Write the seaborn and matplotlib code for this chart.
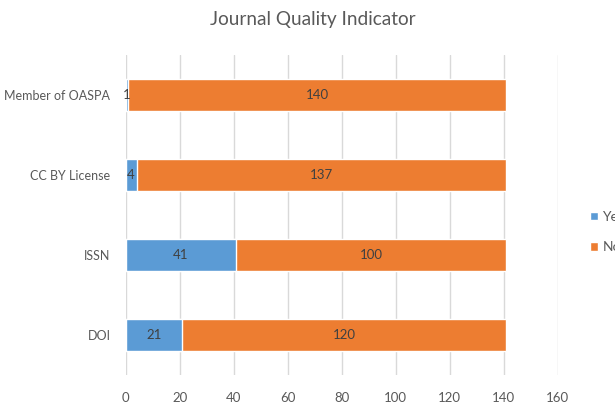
import numpy as np
import pandas as pd
import matplotlib.pyplot as plt
import seaborn as sns
from matplotlib.patches import Patch

# chart values
categories = ["Member of OASPA", "CC BY License", "ISSN", "DOI"]
yes_counts = [1, 4, 41, 21]
no_counts = [140, 137, 100, 120]
x_ticks = [0, 20, 40, 60, 80, 100, 120, 140, 160]

COLOR_YES = '#5B9BD5'
COLOR_NO = '#ED7D31'
TEXT_GRAY = '#595959'

sns.set_theme(style="white")
plt.rcParams['font.family'] = ['Lato', 'DejaVu Sans']

df = pd.DataFrame({"category": categories, "yes": yes_counts, "no": no_counts})
df["total"] = df["yes"] + df["no"]

fig = plt.figure(figsize=(6.15, 4.04), dpi=100)
ax = fig.add_axes([125.7 / 615, 1 - 375 / 404, (557.7 - 125.7) / 615, 320 / 404])

# stacked: full bar in orange, yes part drawn over it
sns.barplot(data=df, x="total", y="category", color=COLOR_NO, saturation=1, width=0.4, ax=ax, zorder=2)
sns.barplot(data=df, x="yes", y="category", color=COLOR_YES, saturation=1, width=0.4, ax=ax, zorder=3)

for i, row in df.iterrows():
    ax.text(row["yes"] / 2, i, str(row["yes"]), ha='center', va='center', fontsize=9.5, color='#404040', zorder=4)
    ax.text(row["yes"] + row["no"] / 2, i, str(row["no"]), ha='center', va='center', fontsize=9.5, color='#404040', zorder=4)

ax.set_xlim(0, 160)
ax.set_xticks(x_ticks)
ax.set_xlabel("")
ax.set_ylabel("")
ax.grid(axis='x', color='#d9d9d9', linewidth=1, zorder=0)
ax.set_axisbelow(True)
for s in ax.spines.values():
    s.set_visible(False)
ax.tick_params(axis='x', length=0, labelsize=9.5, colors=TEXT_GRAY, pad=12)
ax.tick_params(axis='y', length=0, labelsize=9, colors=TEXT_GRAY, pad=11)

fig.text(313 / 615, 1 - 20 / 404, "Journal Quality Indicator", ha='center', va='center', fontsize=13.7, color=TEXT_GRAY)

handles = [Patch(facecolor=COLOR_YES, label="Yes"), Patch(facecolor=COLOR_NO, label="No")]
fig.legend(handles=handles, loc='center left', bbox_to_anchor=(590 / 615, 1 - 232 / 404), frameon=False,
           fontsize=10, labelcolor=TEXT_GRAY, handlelength=0.6, handleheight=0.6, handletextpad=0.3,
           labelspacing=1.3, borderaxespad=0, borderpad=0)

plt.savefig("out.png", dpi=100)
plt.close()
